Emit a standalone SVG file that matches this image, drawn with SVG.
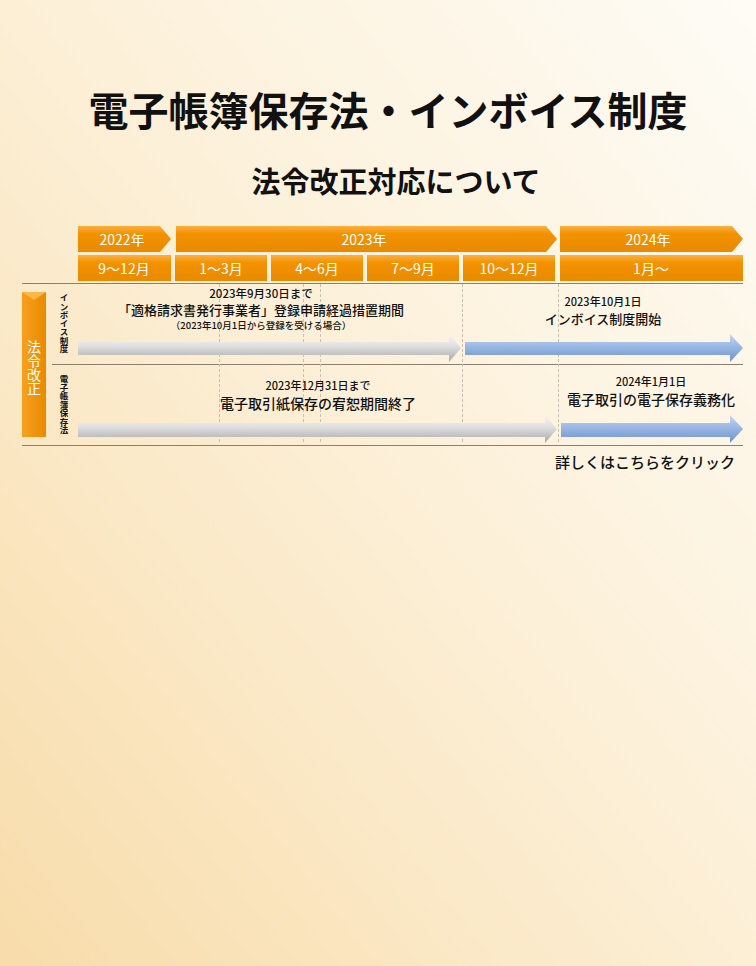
<svg xmlns="http://www.w3.org/2000/svg" width="756" height="966" viewBox="0 0 756 966">
<defs>
<linearGradient id="bg" x1="1" y1="0" x2="0" y2="1"><stop offset="0" stop-color="#fefcf6"/><stop offset="0.5" stop-color="#fcefd6"/><stop offset="1" stop-color="#f8dcaa"/></linearGradient>
<linearGradient id="or" x1="0" y1="0" x2="0" y2="1"><stop offset="0" stop-color="#fbb040"/><stop offset="0.3" stop-color="#f39200"/><stop offset="1" stop-color="#e88a00"/></linearGradient>
<linearGradient id="orv" x1="0" y1="0" x2="1" y2="0"><stop offset="0" stop-color="#f7a020"/><stop offset="1" stop-color="#e98a00"/></linearGradient>
<linearGradient id="gr" x1="0" y1="0" x2="0" y2="1"><stop offset="0" stop-color="#f4f4f4"/><stop offset="0.4" stop-color="#e2e2e2"/><stop offset="1" stop-color="#a8a8a8"/></linearGradient>
<linearGradient id="bl" x1="0" y1="0" x2="0" y2="1"><stop offset="0" stop-color="#c8d8f0"/><stop offset="0.4" stop-color="#9dbbe6"/><stop offset="1" stop-color="#6f92c8"/></linearGradient>
<style>
text{font-family:"Noto Sans CJK JP","Liberation Sans",sans-serif;fill:#111;font-weight:500}
.w{fill:#fff;font-size:14px;text-anchor:middle;font-weight:400}
.c{text-anchor:middle}
.ln{stroke:#8a8070;stroke-width:1}
.dash{stroke:#c8c0b0;stroke-width:1;stroke-dasharray:3,2}
</style>
</defs>
<rect width="756" height="966" fill="url(#bg)"/>
<text x="388" y="126" class="c" font-size="40" style="font-weight:bold">電子帳簿保存法・インボイス制度</text>
<text x="396" y="193" class="c" font-size="29" style="font-weight:bold">法令改正対応について</text>

<g id="years">
<path d="M78,226 H160 L171,239 L160,252 H78 Z" fill="url(#or)"/>
<path d="M176,226 H546 L557,239 L546,252 H176 Z" fill="url(#or)"/>
<path d="M560,226 H732 L743,239 L732,252 H560 Z" fill="url(#or)"/>
<text x="122" y="245" class="w">2022年</text>
<text x="364" y="245" class="w">2023年</text>
<text x="648" y="245" class="w">2024年</text>
</g>
<g id="months">
<rect x="78" y="255" width="93" height="26" fill="url(#or)"/>
<rect x="175" y="255" width="92" height="26" fill="url(#or)"/>
<rect x="271" y="255" width="92" height="26" fill="url(#or)"/>
<rect x="367" y="255" width="92" height="26" fill="url(#or)"/>
<rect x="463" y="255" width="92" height="26" fill="url(#or)"/>
<rect x="560" y="255" width="183" height="26" fill="url(#or)"/>
<text x="124" y="274" class="w">9～12月</text>
<text x="221" y="274" class="w">1～3月</text>
<text x="317" y="274" class="w">4～6月</text>
<text x="413" y="274" class="w">7～9月</text>
<text x="509" y="274" class="w">10～12月</text>
<text x="651" y="274" class="w">1月～</text>
</g>
<g id="grid">
<line x1="22" y1="283.5" x2="743" y2="283.5" class="ln"/>
<line x1="52" y1="364.5" x2="743" y2="364.5" class="ln"/>
<line x1="22" y1="445.5" x2="743" y2="445.5" class="ln"/>
<line x1="219.5" y1="284" x2="219.5" y2="444" class="dash"/>
<line x1="303.5" y1="284" x2="303.5" y2="444" class="dash"/>
<line x1="320.5" y1="284" x2="320.5" y2="444" class="dash"/>
<line x1="462.5" y1="284" x2="462.5" y2="444" class="dash"/>
<line x1="558.5" y1="284" x2="558.5" y2="444" class="dash"/>
</g>
<g id="label-main">
<path d="M22,292 H46 V437 H22 Z" fill="url(#orv)"/>
<path d="M22,292 H46 L34,300 Z" fill="#fbb848"/>
<text x="34" y="340" class="w" font-size="13" writing-mode="tb" style="text-anchor:start">法令改正</text>
</g>
<g id="label-invoice"><text x="64" y="294" font-size="8.5" style="font-weight:bold" writing-mode="tb">インボイス制度</text></g>
<g id="label-denchoho"><text x="64" y="375" font-size="8.5" style="font-weight:bold" writing-mode="tb">電子帳簿保存法</text></g>

<g id="connectors">
<path d="M78,342 H449 V334 L461,348 L449,362 V355 H78 Z" fill="url(#gr)"/>
<path d="M465,342 H730 V334 L743,348 L730,362 V355 H465 Z" fill="url(#bl)"/>
<path d="M78,423 H545 V415 L557,429 L545,443 V437 H78 Z" fill="url(#gr)"/>
<path d="M561,423 H730 V415 L743,429 L730,443 V437 H561 Z" fill="url(#bl)"/>
</g>
<g id="texts">
<text x="261" y="298" class="c" font-size="11.5">2023年9月30日まで</text>
<text x="261" y="315" class="c" font-size="13">「適格請求書発行事業者」登録申請経過措置期間</text>
<text x="261" y="329" class="c" font-size="9.5">（2023年10月1日から登録を受ける場合）</text>
<text x="603" y="306" class="c" font-size="11">2023年10月1日</text>
<text x="603" y="324" class="c" font-size="13">インボイス制度開始</text>
<text x="318" y="390" class="c" font-size="11">2023年12月31日まで</text>
<text x="318" y="409" class="c" font-size="14">電子取引紙保存の宥恕期間終了</text>
<text x="651" y="386" class="c" font-size="11">2024年1月1日</text>
<text x="651" y="405" class="c" font-size="14">電子取引の電子保存義務化</text>
<text x="645" y="468" class="c" font-size="15">詳しくはこちらをクリック</text>
</g>
</svg>
